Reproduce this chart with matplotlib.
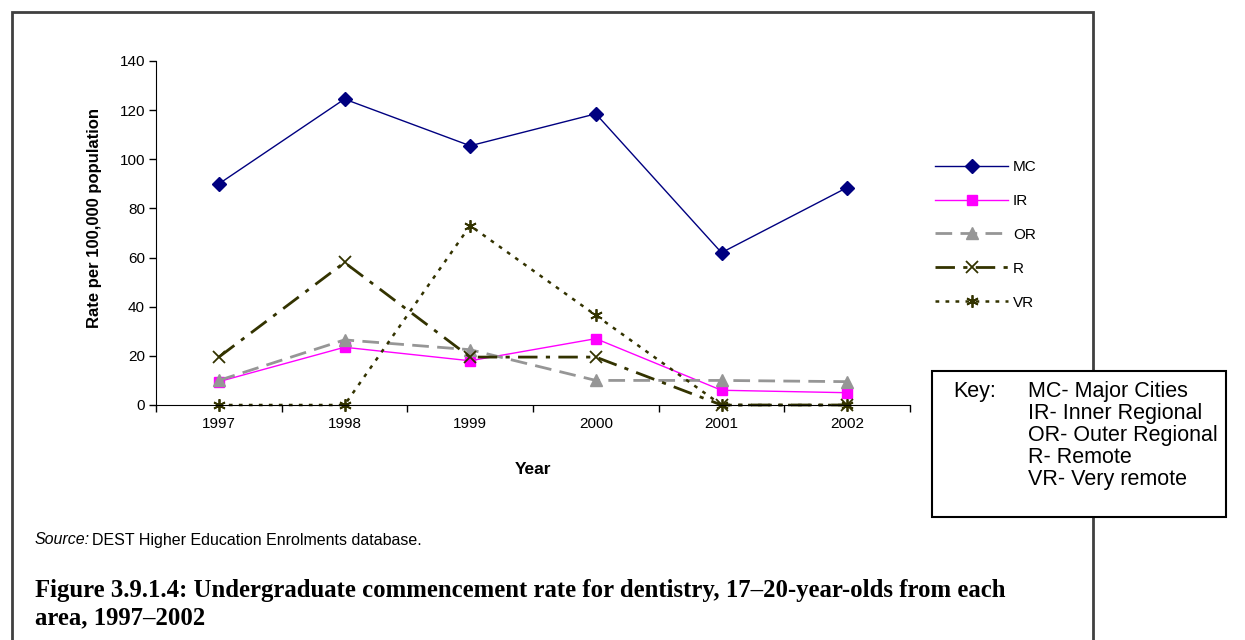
"""
Undergraduate commencement rate for dentistry by area, 1997-2002
"""

import matplotlib
matplotlib.use('Agg')
import matplotlib.pyplot as plt
from matplotlib.patches import Rectangle

# data
years = ['1997', '1998', '1999', '2000', '2001', '2002']
mc = [90, 124.5, 105.5, 118.5, 62, 88.5]
ir = [9.5, 23.5, 18, 27, 6, 5]
orr = [10, 26.5, 22.5, 10, 10, 9.5]
r = [19.5, 58, 19.5, 19.5, 0, 0]
vr = [0, 0, 73, 36.5, 0, 0]

series_names = ['MC', 'IR', 'OR', 'R', 'VR']
key_lines = ['MC- Major Cities', 'IR- Inner Regional', 'OR- Outer Regional',
             'R- Remote', 'VR- Very remote']

plt.rcParams['font.family'] = ['Liberation Sans', 'DejaVu Sans']

W, H = 1245, 640
fig = plt.figure(figsize=(W / 100, H / 100), dpi=100)

def fx(px):
    return px / W

def fy(py):
    return 1 - py / H

# outer frame of the figure page
fig.patches.append(Rectangle((fx(12), fy(660)), fx(1093) - fx(12), fy(12) - fy(660),
                             transform=fig.transFigure, fill=False,
                             edgecolor='#404040', linewidth=2, zorder=0))

ax = fig.add_axes([fx(156), fy(405), fx(910) - fx(156), fy(61) - fy(405)])
x = list(range(len(years)))

styles = [
    dict(color='#000080', linestyle='-', linewidth=1.0, marker='D', markersize=7),
    dict(color='#FF00FF', linestyle='-', linewidth=1.0, marker='s', markersize=7),
    dict(color='#969696', linestyle=(0, (6, 3)), linewidth=2.0, marker='^', markersize=8),
    dict(color='#333300', linestyle=(0, (7, 3, 1.5, 3)), linewidth=2.0, marker='x',
         markersize=8, markeredgewidth=1.3),
    dict(color='#333300', linestyle=(0, (1.5, 2.5)), linewidth=1.8, marker=(6, 2, 0),
         markersize=9, markeredgewidth=1.3),
]

handles = []
for vals, name, st in zip([mc, ir, orr, r, vr], series_names, styles):
    ln, = ax.plot(x, vals, label=name, clip_on=False, **st)
    handles.append(ln)

ax.set_xlim(-0.5, 5.5)
ax.set_ylim(0, 140)
ax.set_yticks(range(0, 141, 20))
ax.set_xticks(x)
ax.set_xticklabels(years)
ax.set_xticks([i + 0.5 for i in range(-1, 6)], minor=True)
ax.tick_params(axis='x', which='major', length=0, labelsize=11, pad=9)
ax.tick_params(axis='x', which='minor', length=5, width=1, direction='out')
ax.tick_params(axis='y', length=5, width=1, direction='out', labelsize=11, pad=3)
for s in ['top', 'right']:
    ax.spines[s].set_visible(False)

ax.set_ylabel('Rate per 100,000 population', fontsize=12, fontweight='bold')
ax.yaxis.set_label_coords(-0.071, 0.545)
ax.set_xlabel('Year', fontsize=12.5, fontweight='bold', labelpad=22)

# legend
fig.legend(handles=handles, loc='upper left',
           bbox_to_anchor=(fx(929), fy(154)), frameon=False,
           fontsize=11, handlelength=4.8, handletextpad=0.3,
           labelspacing=1.3, borderaxespad=0)

# key box
fig.patches.append(Rectangle((fx(932), fy(517)), fx(1226) - fx(932), fy(371) - fy(517),
                             transform=fig.transFigure, facecolor='white',
                             edgecolor='black', linewidth=1.5, zorder=3))
fig.text(fx(953), fy(392), 'Key:', fontsize=15.5, va='center', zorder=4)
for i, t in enumerate(key_lines):
    fig.text(fx(1028), fy(392 + i * 21.8), t, fontsize=15.5, va='center', zorder=4)

# source and caption
fig.text(fx(35), fy(540), 'Source:', fontsize=11.5, style='italic', va='center')
fig.text(fx(92), fy(540), 'DEST Higher Education Enrolments database.', fontsize=11.5,
         va='center')
serif = ['Liberation Serif', 'DejaVu Serif']
fig.text(fx(35), fy(591),
         'Figure 3.9.1.4: Undergraduate commencement rate for dentistry, '
         '17\u201320-year-olds from each',
         fontsize=17.8, fontweight='bold', family=serif, va='center')
fig.text(fx(35), fy(618), 'area, 1997\u20132002', fontsize=17.8, fontweight='bold',
         family=serif, va='center')

fig.savefig('out.png', dpi=100)
plt.close(fig)
